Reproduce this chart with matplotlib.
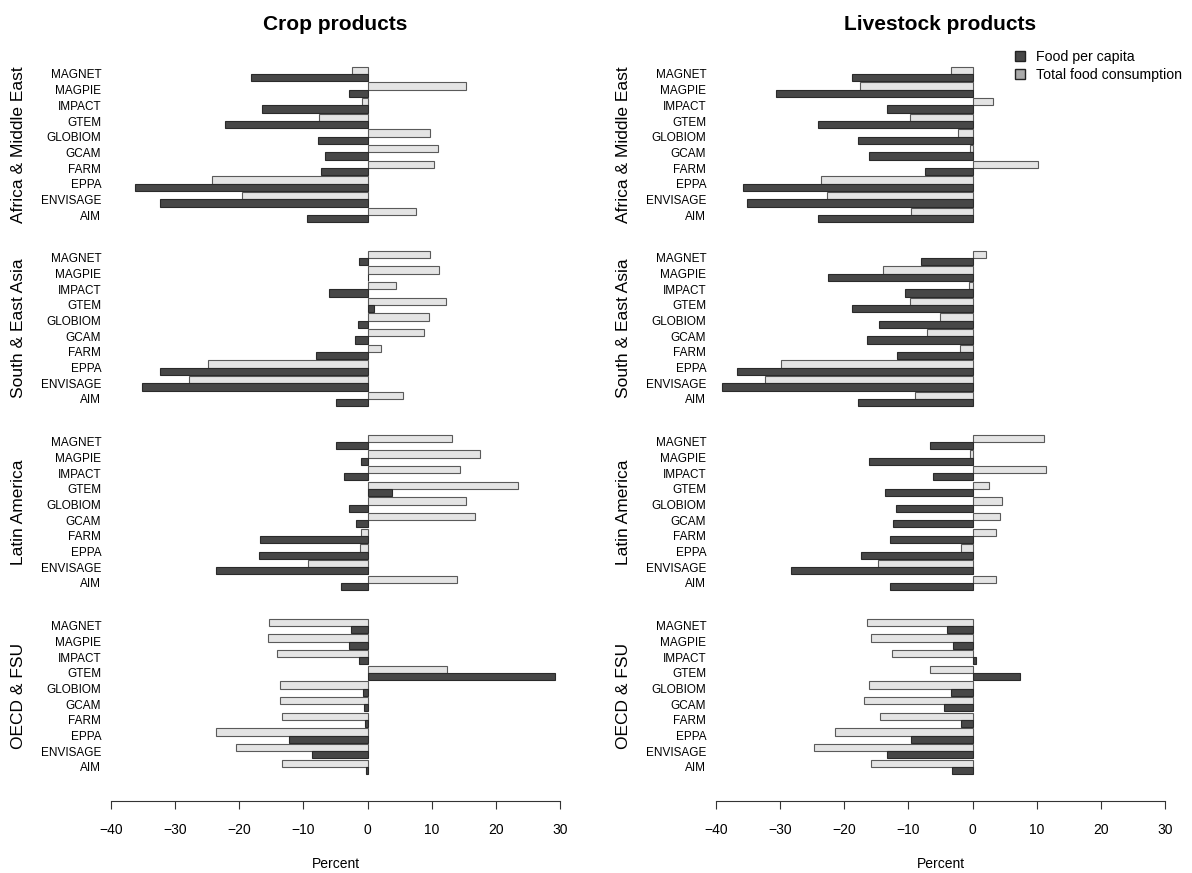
import numpy as np
import matplotlib
matplotlib.use("Agg")
import matplotlib.pyplot as plt
from matplotlib.patches import Patch
from matplotlib.transforms import blended_transform_factory

plt.rcParams['font.family'] = ['Liberation Sans', 'DejaVu Sans']

models = ["MAGNET", "MAGPIE", "IMPACT", "GTEM", "GLOBIOM",
          "GCAM", "FARM", "EPPA", "ENVISAGE", "AIM"]
regions = ["Africa & Middle East", "South & East Asia",
           "Latin America", "OECD & FSU"]
panel_titles = ["Crop products", "Livestock products"]

# percent change, one row per region, models in the order above
crop_per_capita = [
    [-18.1, -2.9, -16.5, -22.3, -7.7, -6.7, -7.2, -36.3, -32.3, -9.5],
    [-1.3, 0.0, -6.0, 1.0, -1.5, -2.0, -8.1, -32.3, -35.1, -5.0],
    [-4.9, -1.1, -3.7, 3.8, -2.9, -1.8, -16.8, -16.9, -23.7, -4.1],
    [-2.6, -2.9, -1.3, 29.2, -0.7, -0.6, -0.4, -12.3, -8.6, -0.3],
]
crop_total = [
    [-2.5, 15.4, -0.8, -7.5, 9.8, 11.0, 10.4, -24.2, -19.5, 7.6],
    [9.7, 11.2, 4.5, 12.2, 9.5, 8.8, 2.1, -24.8, -27.9, 5.5],
    [13.1, 17.5, 14.4, 23.5, 15.4, 16.7, -1.1, -1.2, -9.3, 14.0],
    [-15.3, -15.6, -14.1, 12.4, -13.7, -13.7, -13.4, -23.7, -20.5, -13.3],
]
livestock_per_capita = [
    [-18.8, -30.6, -13.3, -24.1, -17.8, -16.2, -7.4, -35.8, -35.1, -24.1],
    [-8.1, -22.6, -10.6, -18.8, -14.6, -16.4, -11.8, -36.8, -39.0, -17.9],
    [-6.6, -16.2, -6.2, -13.6, -11.9, -12.4, -12.8, -17.4, -28.3, -12.9],
    [-4.0, -3.1, 0.6, 7.4, -3.4, -4.5, -1.8, -9.6, -13.4, -3.2],
]
livestock_total = [
    [-3.4, -17.5, 3.2, -9.7, -2.2, -0.4, 10.2, -23.6, -22.7, -9.6],
    [2.1, -13.9, -0.6, -9.8, -5.1, -7.1, -1.9, -29.8, -32.3, -8.9],
    [11.1, -0.4, 11.4, 2.6, 4.6, 4.2, 3.7, -1.8, -14.8, 3.6],
    [-16.5, -15.8, -12.5, -6.6, -16.1, -16.9, -14.5, -21.5, -24.7, -15.8],
]

dark = "#474747"
light = "#e4e4e4"
block = 11.74   # rows from one region to the next
h = 0.46        # bar height

fig = plt.figure(figsize=(11.92, 8.73), dpi=100)
W, H = 1192, 873
lefts = [111, 716]
series = [(crop_per_capita, crop_total), (livestock_per_capita, livestock_total)]

for k, (pc, tot) in enumerate(series):
    ax = fig.add_axes([lefts[k] / W, 72 / H, 449 / W, (801 - 60) / H])
    ypos, ylab = [], []
    trans = blended_transform_factory(ax.transAxes, ax.transData)
    for r, region in enumerate(regions):
        y = r * block + np.arange(len(models))
        ax.barh(y - h / 2, tot[r], height=h, color=light, edgecolor="#5a5a5a", linewidth=0.8)
        ax.barh(y + h / 2, pc[r], height=h, color=dark, edgecolor="#2a2a2a", linewidth=0.8)
        ypos.extend(y)
        ylab.extend(models)
        ax.text(-0.205, y.mean(), region, transform=trans, rotation=90,
                ha="center", va="center", fontsize=12.5)
    ax.set_ylim((801 - 74) / 15.67, (60 - 74) / 15.67)
    ax.set_xlim(-40, 30)
    ax.set_yticks(ypos)
    ax.set_yticklabels(ylab, fontsize=8.5)
    ax.tick_params(axis="y", length=0, pad=7)
    ax.set_xticks(np.arange(-40, 31, 10))
    ax.tick_params(axis="x", length=6, width=0.8, pad=10, labelsize=10, color="#333")
    for s in ["top", "right", "left"]:
        ax.spines[s].set_visible(False)
    ax.spines["bottom"].set_color("#333")
    ax.spines["bottom"].set_linewidth(0.8)
    ax.set_xlabel("Percent", fontsize=10, labelpad=14)
    fig.text((lefts[k] + 224.5) / W, 1 - 24 / H, panel_titles[k],
             ha="center", va="center", fontsize=15, fontweight="bold")

handles = [Patch(facecolor=dark, edgecolor="#222", label="Food per capita"),
           Patch(facecolor="#aaaaaa", edgecolor="#222", label="Total food consumption")]
fig.legend(handles=handles, loc="upper left", bbox_to_anchor=(1009 / W, 1 - 44 / H),
           frameon=False, fontsize=10.2, handlelength=0.7, handleheight=0.7,
           handletextpad=0.8, labelspacing=0.3, borderaxespad=0)

fig.savefig("out.png", dpi=100)
